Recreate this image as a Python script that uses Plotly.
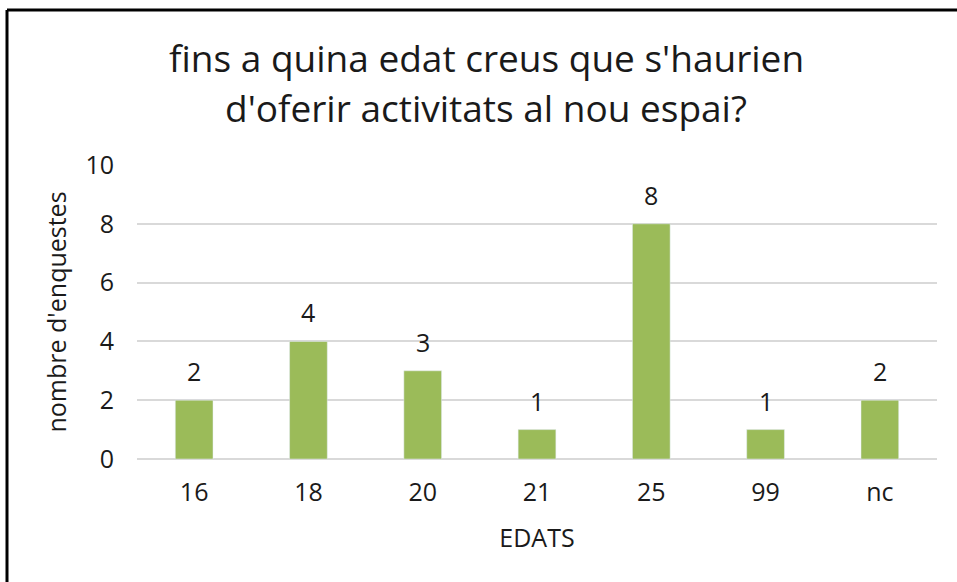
import plotly.graph_objects as go

categories = ["16", "18", "20", "21", "25", "99", "nc"]
values = [2, 4, 3, 1, 8, 1, 2]
title_lines = ["fins a quina edat creus que s'haurien", "d'oferir activitats al nou espai?"]

W, H = 957, 582
L, R, T, B = 137, 20, 165, 123
pw, ph = W - L - R, H - T - B

def px(x):
    return (x - L) / pw

def py(y):
    return (H - B - y) / ph

FONT = "Open Sans"
TXT = "#1a1a1a"
fig = go.Figure(go.Bar(
    x=categories, y=values, marker_color="#9BBB59", cliponaxis=False, hoverinfo="skip",
))
ann = [
    dict(text=title_lines[0], xref="paper", yref="paper", x=px(486), y=py(58), showarrow=False,
         xanchor="center", yanchor="middle", font=dict(size=37, family=FONT, color=TXT)),
    dict(text=title_lines[1], xref="paper", yref="paper", x=px(486), y=py(108), showarrow=False,
         xanchor="center", yanchor="middle", font=dict(size=37, family=FONT, color=TXT)),
]
for i, v in enumerate(values):
    ann.append(dict(text=str(v), x=i, y=v, xref="x", yref="y", showarrow=False,
                    xanchor="center", yanchor="bottom", yshift=10,
                    font=dict(size=25, family=FONT, color=TXT)))

fig.update_layout(
    width=W, height=H, margin=dict(l=L, r=R, t=T, b=B),
    paper_bgcolor="white", plot_bgcolor="white",
    font=dict(family=FONT, color=TXT, size=25),
    bargap=0.67, showlegend=False,
    xaxis=dict(type="category", title=dict(text="EDATS", font=dict(size=25), standoff=22),
               showgrid=False, ticks="", zeroline=False, showline=False,
               tickfont=dict(size=25), ticklabelstandoff=16),
    yaxis=dict(title=dict(text="nombre d'enquestes", font=dict(size=25), standoff=11),
               range=[0, 10], dtick=2, gridcolor="#D9D9D9", gridwidth=1.5,
               zeroline=True, zerolinecolor="#D9D9D9", zerolinewidth=1.5,
               showline=False, ticks="", tickfont=dict(size=25), ticklabelstandoff=22),
    shapes=[
        dict(type="line", xref="paper", yref="paper", x0=px(7), x1=px(W + 10), y0=py(10), y1=py(10),
             line=dict(color="black", width=3)),
        dict(type="line", xref="paper", yref="paper", x0=px(7), x1=px(7), y0=py(10), y1=py(H + 10),
             line=dict(color="black", width=3)),
    ],
    annotations=ann,
)
fig.write_html("out.html", config={"displayModeBar": False},
               post_script="document.body.style.margin='0';document.body.style.padding='0';")
